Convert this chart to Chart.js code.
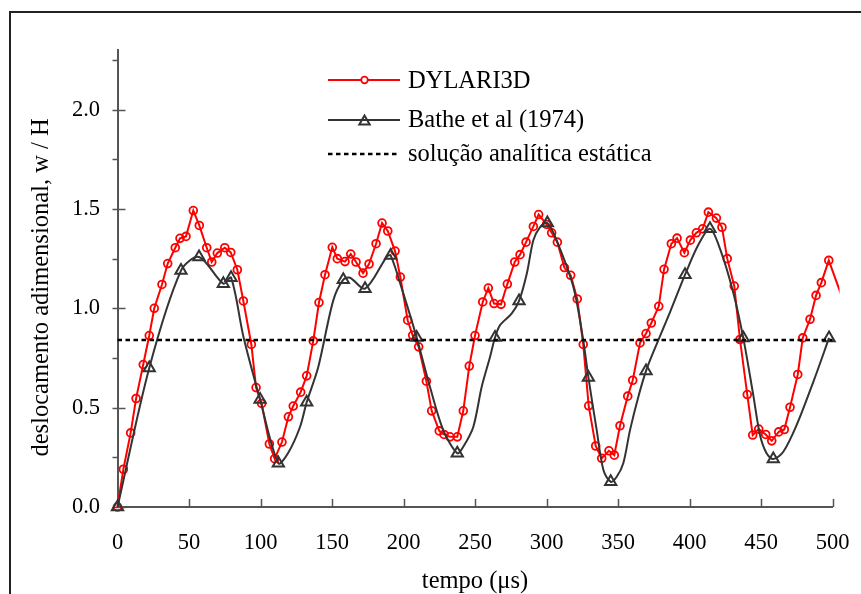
<!DOCTYPE html>
<html>
<head>
<meta charset="utf-8">
<script src="https://cdn.jsdelivr.net/npm/chart.js@4/dist/chart.umd.min.js"></script>
<style>
html,body{margin:0;padding:0;background:#fff;overflow:hidden}
canvas{display:block}
</style>
</head>
<body>
<canvas id="c" width="861" height="594"></canvas>
<script>
// ---------- data ----------
const seriesNames = ['DYLARI3D', 'Bathe et al (1974)', 'solução analítica estática'];
const xTitle = 'tempo (μs)';
const yTitle = 'deslocamento adimensional, w / H';
const xTickValues = [0, 50, 100, 150, 200, 250, 300, 350, 400, 450, 500];
const yTickValues = [0, 0.5, 1.0, 1.5, 2.0];
const yMinorTickValues = [0.25, 0.75, 1.25, 1.75, 2.25];

// DYLARI3D: [time, w/H]
const dylariPoints = [
  [0,0],[4.1,0.19],[9.2,0.373],[13,0.546],[18,0.717],[22.2,0.863],[25.7,1.0],[31.1,1.12],
  [35.1,1.225],[40.4,1.305],[43.7,1.352],[47.9,1.362],[53,1.492],[57.2,1.417],[62.4,1.305],
  [65.9,1.233],[69.8,1.278],[75,1.305],[79.2,1.281],[83.8,1.194],[88,1.037],[93.6,0.818],
  [96.9,0.601],[100.8,0.521],[106.2,0.317],[109.9,0.243],[115,0.327],[119.5,0.454],[122.9,0.508],
  [128.1,0.578],[132.3,0.66],[136.9,0.836],[140.9,1.029],[145.1,1.169],[150.2,1.307],[153.7,1.25],
  [159.1,1.235],[163.1,1.273],[166.8,1.233],[171.7,1.177],[175.9,1.223],[180.8,1.325],[185,1.429],
  [189,1.389],[194.1,1.288],[197.8,1.157],[202.9,0.94],[206.4,0.864],[210.6,0.806],[216,0.633],
  [219.7,0.484],[225,0.383],[228.3,0.365],[232.5,0.353],[237.6,0.353],[241.8,0.484],[246,0.709],
  [250,0.863],[255.4,1.032],[259.3,1.102],[263.3,1.024],[268.2,1.02],[272.6,1.122],[277.8,1.233],
  [281.5,1.27],[285.7,1.333],[290.8,1.412],[294.5,1.472],[300.1,1.422],[303.6,1.38],[307.6,1.333],
  [312.5,1.205],[316.9,1.166],[321.5,1.047],[325.7,0.818],[329.5,0.509],[334.4,0.307],[338.6,0.245],
  [343.7,0.283],[347.4,0.261],[351.4,0.409],[356.8,0.558],[360.3,0.638],[365.4,0.826],[369.6,0.873],
  [373.3,0.926],[378.5,1.01],[382.2,1.196],[387.3,1.325],[391.3,1.353],[396.4,1.28],[400.6,1.343],
  [404.8,1.38],[409.2,1.4],[413.2,1.484],[418.8,1.454],[422.7,1.408],[426.4,1.25],[431.3,1.112],
  [435.3,0.843],[440.4,0.566],[444.2,0.362],[448.4,0.392],[453.3,0.365],[457.5,0.333],[462.4,0.378],
  [466.3,0.39],[470.3,0.502],[475.7,0.667],[479.2,0.851],[484.3,0.945],[488.5,1.065],[492.2,1.129],
  [497.4,1.241]
];
// continuation of the DYLARI3D line past the axis end (no marker)
const dylariTail = [[508,1.03]];

// Bathe et al (1974): [time, w/H, marker shown (1) or not (0)]
const bathePoints = [
  [0,0,1],[22.2,0.70,1],[44.4,1.19,1],[57,1.258,1],[74,1.124,1],[79.4,1.154,1],[88.1,0.856,0],
  [99.7,0.541,1],[112.5,0.22,1],[119.2,0.27,0],[127.5,0.40,0],[132.3,0.527,1],[140.4,0.705,0],
  [150.9,1.04,0],[157.9,1.144,1],[162.6,1.154,0],[173.1,1.099,1],[188.2,1.258,0],[191,1.266,1],
  [199.9,1.074,0],[209.2,0.853,1],[218.5,0.605,0],[227.8,0.387,0],[237.6,0.27,1],[241.8,0.303,0],
  [248.8,0.403,0],[254.7,0.605,0],[260.5,0.755,0],[264,0.853,1],[267.5,0.915,0],[275.6,0.973,0],
  [280.8,1.037,1],[286.2,1.174,0],[290.8,1.342,0],[295.5,1.409,0],[300.6,1.429,1],[307.1,1.342,0],
  [318.8,1.107,0],[325.7,0.839,0],[329.3,0.652,1],[335.1,0.387,0],[339.8,0.186,0],[344.9,0.127,1],
  [349.1,0.152,0],[353.7,0.22,0],[358.4,0.387,0],[364.2,0.554,0],[369.6,0.685,1],[374.7,0.78,0],
  [386.4,0.981,0],[396.9,1.169,1],[406,1.317,0],[414.3,1.40,1],[421.3,1.30,0],[430.5,1.082,0],
  [437.6,0.851,1],[444.6,0.563,0],[449.3,0.362,0],[453.9,0.27,0],[458.6,0.241,1],[465.6,0.278,0],
  [474.9,0.412,0],[486.6,0.63,0],[497.6,0.851,1]
];

// static analytic solution
const staticTimes = [0, 500];
const staticValue = 0.84;

// ---------- drawing ----------
const FONT = "'Liberation Serif','Times New Roman',Times,serif";
const RED = '#ff0000';
const DARK = '#333333';
const AXIS = '#555555';

const dylariData = dylariPoints.concat(dylariTail).map(p => ({x: p[0], y: p[1]}));
const batheData = bathePoints.map(p => ({x: p[0], y: p[1]}));
const staticData = staticTimes.map(t => ({x: t, y: staticValue}));

function drawTriangle(ctx, x, y, r) {
  let rad = 0;
  ctx.beginPath();
  ctx.moveTo(x + Math.sin(rad) * r, y - Math.cos(rad) * r);
  rad += 2 * Math.PI / 3;
  ctx.lineTo(x + Math.sin(rad) * r, y - Math.cos(rad) * r);
  rad += 2 * Math.PI / 3;
  ctx.lineTo(x + Math.sin(rad) * r, y - Math.cos(rad) * r);
  ctx.closePath();
  ctx.stroke();
}

const decor = {
  id: 'decor',
  beforeDraw(chart) {
    const ctx = chart.ctx;
    ctx.save();
    ctx.fillStyle = '#fff';
    ctx.fillRect(0, 0, chart.width, chart.height);
    ctx.strokeStyle = '#222';
    ctx.lineWidth = 2;
    ctx.beginPath();
    ctx.moveTo(10, chart.height + 4);
    ctx.lineTo(10, 12);
    ctx.lineTo(chart.width + 4, 12);
    ctx.stroke();
    ctx.restore();
  },
  beforeDatasetsDraw(chart) {
    const ctx = chart.ctx;
    const xs = chart.scales.x, ys = chart.scales.y;
    const ax = xs.left, ay = ys.bottom;
    ctx.save();
    ctx.strokeStyle = AXIS;
    ctx.lineWidth = 1.5;
    ctx.beginPath();
    yTickValues.forEach(v => {
      const py = Math.round(ys.getPixelForValue(v)) + 0.5;
      ctx.moveTo(ax - 5, py); ctx.lineTo(ax + 8, py);
    });
    yMinorTickValues.forEach(v => {
      const py = Math.round(ys.getPixelForValue(v)) + 0.5;
      ctx.moveTo(ax - 5, py); ctx.lineTo(ax, py);
    });
    xTickValues.forEach(v => {
      const px = Math.round(xs.getPixelForValue(v)) + 0.5;
      ctx.moveTo(px, ay); ctx.lineTo(px, ay - 8);
    });
    ctx.stroke();
    ctx.restore();
  },
  afterDraw(chart) {
    const ctx = chart.ctx;
    const xs = chart.scales.x;
    ctx.save();
    ctx.fillStyle = '#000';
    ctx.font = '24.5px ' + FONT;
    ctx.textBaseline = 'alphabetic';
    // x title
    ctx.textAlign = 'center';
    ctx.fillText(xTitle, (xs.left + xs.right) / 2, 588);
    // y title
    ctx.save();
    ctx.translate(47.5, 287.5);
    ctx.rotate(-Math.PI / 2);
    ctx.fillText(yTitle, 0, 0);
    ctx.restore();

    // legend
    const rowsY = [80, 120, 154];
    const textY = [88, 127, 161];
    const x0 = 328, x1 = 400, xm = 364.5, tx = 408;
    chart.data.datasets.forEach((ds, i) => {
      const y = rowsY[i];
      ctx.save();
      ctx.strokeStyle = ds.borderColor;
      ctx.lineWidth = ds.borderWidth;
      if (ds.borderDash) ctx.setLineDash(ds.borderDash);
      ctx.beginPath();
      ctx.moveTo(x0, y); ctx.lineTo(x1, y);
      ctx.stroke();
      ctx.setLineDash([]);
      if (ds.legendMarker === 'circle') {
        ctx.lineWidth = ds.pointBorderWidth;
        ctx.fillStyle = '#fff';
        ctx.beginPath();
        ctx.arc(xm, y, 3.3, 0, Math.PI * 2);
        ctx.fill();
        ctx.stroke();
      } else if (ds.legendMarker === 'triangle') {
        ctx.lineWidth = ds.pointBorderWidth;
        ctx.fillStyle = '#fff';
        drawTriangle(ctx, xm, y + 1.5, 6);
      }
      ctx.restore();
      ctx.textAlign = 'left';
      ctx.fillStyle = '#000';
      ctx.fillText(ds.label, tx, textY[i]);
    });
    ctx.restore();
  }
};

new Chart(document.getElementById('c').getContext('2d'), {
  type: 'line',
  data: {
    datasets: [
      {
        label: seriesNames[0],
        data: dylariData,
        order: 2,
        borderColor: RED,
        borderWidth: 2,
        tension: 0,
        pointStyle: 'circle',
        pointRadius: c => (c.dataIndex < dylariPoints.length ? 3.9 : 0),
        pointBorderColor: RED,
        pointBackgroundColor: 'rgba(0,0,0,0)',
        pointBorderWidth: 1.8,
        legendMarker: 'circle',
        clip: {left: 12, top: 12, right: 7, bottom: 12}
      },
      {
        label: seriesNames[1],
        data: batheData,
        order: 1,
        borderColor: DARK,
        borderWidth: 2,
        tension: 0.3,
        pointStyle: 'triangle',
        pointRadius: c => (bathePoints[c.dataIndex] && bathePoints[c.dataIndex][2] ? 6.5 : 0),
        pointBorderColor: DARK,
        pointBackgroundColor: 'rgba(0,0,0,0)',
        pointBorderWidth: 2,
        legendMarker: 'triangle',
        clip: false
      },
      {
        label: seriesNames[2],
        data: staticData,
        order: 0,
        borderColor: '#000',
        borderWidth: 2.5,
        borderDash: [4.5, 3.5],
        pointRadius: 0,
        legendMarker: 'none',
        clip: false
      }
    ]
  },
  options: {
    responsive: false,
    animation: false,
    devicePixelRatio: 1,
    events: [],
    layout: {padding: {left: 0, top: 50, right: 28.5, bottom: 0}},
    plugins: {legend: {display: false}, tooltip: {enabled: false}, title: {display: false}},
    scales: {
      x: {
        type: 'linear',
        min: 0,
        max: 500,
        grid: {display: false, drawTicks: false},
        border: {display: true, color: AXIS, width: 2},
        ticks: {padding: 23, color: '#000', font: {family: FONT, size: 22.5}, callback: v => String(v)},
        afterBuildTicks: s => { s.ticks = xTickValues.map(v => ({value: v})); },
        afterFit: s => { s.height = 87; s.paddingLeft = 0; s.paddingRight = 0; }
      },
      y: {
        type: 'linear',
        min: 0,
        max: 2.3,
        grid: {display: false, drawTicks: false},
        border: {display: true, color: AXIS, width: 2},
        ticks: {padding: 17.5, color: '#000', font: {family: FONT, size: 22.5}, callback: v => Number(v).toFixed(1)},
        afterBuildTicks: s => { s.ticks = yTickValues.map(v => ({value: v})); },
        afterFit: s => { s.width = 117.5; s.paddingTop = 0; s.paddingBottom = 0; }
      }
    }
  },
  plugins: [decor]
});
</script>
</body>
</html>
